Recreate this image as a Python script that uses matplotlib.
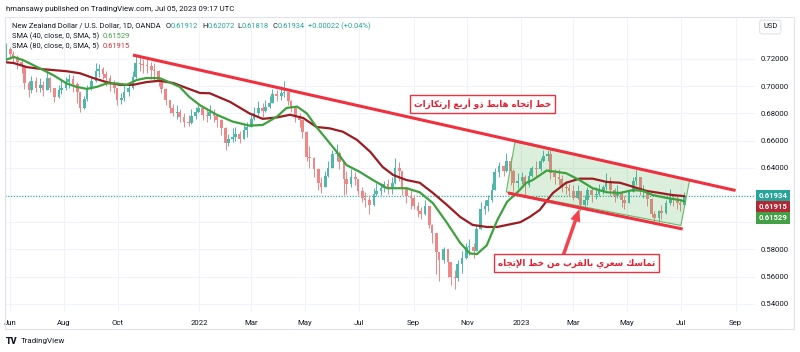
import numpy as np
import pandas as pd
import matplotlib
matplotlib.use("Agg")
import matplotlib.pyplot as plt
import matplotlib.dates as mdates
from matplotlib.patches import Polygon, Rectangle

plt.rcParams["font.family"] = ["Roboto", "DejaVu Sans"]

# candles: one per 3 trading days, last one ends Jul 05 2023
closes = [
    0.7195, 0.7270, 0.7235,                                          # May 21
    0.7215, 0.7180, 0.7150, 0.7020, 0.6975, 0.7035, 0.6990,          # Jun
    0.7010, 0.6975, 0.7060, 0.6990, 0.6920, 0.6975, 0.6990,          # Jul
    0.7030, 0.7050, 0.7015, 0.6960, 0.6840, 0.6905, 0.6985, 0.7040,  # Aug
    0.7110, 0.7125, 0.7090, 0.7060, 0.7020, 0.6990, 0.6900,          # Sep
    0.6910, 0.6960, 0.6985, 0.7070, 0.7170, 0.7160, 0.7155,          # Oct
    0.7150, 0.7120, 0.7110, 0.7040, 0.6980, 0.6900, 0.6840,          # Nov
    0.6805, 0.6810, 0.6770, 0.6740, 0.6730, 0.6780, 0.6810, 0.6840,  # Dec
    0.6790, 0.6780, 0.6810, 0.6780, 0.6750, 0.6690, 0.6580,          # Jan 22
    0.6610, 0.6630, 0.6650, 0.6610, 0.6680, 0.6700, 0.6760,          # Feb
    0.6800, 0.6840, 0.6820, 0.6850, 0.6880, 0.6940, 0.6930, 0.6950,  # Mar
    0.6960, 0.6890, 0.6840, 0.6780, 0.6750, 0.6660, 0.6480,          # Apr
    0.6470, 0.6390, 0.6290, 0.6260, 0.6340, 0.6400, 0.6500,          # May
    0.6510, 0.6440, 0.6320, 0.6280, 0.6330, 0.6320, 0.6230,          # Jun
    0.6180, 0.6160, 0.6130, 0.6210, 0.6230, 0.6250, 0.6280,          # Jul
    0.6260, 0.6290, 0.6400, 0.6380, 0.6250, 0.6190, 0.6180, 0.6120,  # Aug
    0.6080, 0.6060, 0.6120, 0.5980, 0.5920, 0.5780, 0.5720,          # Sep
    0.5800, 0.5710, 0.5600, 0.5590, 0.5690, 0.5740, 0.5820,          # Oct
    0.5820, 0.5790, 0.5950, 0.6100, 0.6120, 0.6160, 0.6240,          # Nov
    0.6370, 0.6410, 0.6380, 0.6450, 0.6380, 0.6290, 0.6300, 0.6330,  # Dec
    0.6270, 0.6340, 0.6400, 0.6390, 0.6450, 0.6490, 0.6500,          # Jan 23
    0.6360, 0.6330, 0.6320, 0.6260, 0.6250, 0.6230, 0.6180,          # Feb
    0.6230, 0.6130, 0.6160, 0.6240, 0.6200, 0.6210, 0.6230, 0.6260,  # Mar
    0.6300, 0.6240, 0.6190, 0.6220, 0.6160, 0.6140,                  # Apr
    0.6220, 0.6300, 0.6330, 0.6230, 0.6230, 0.6170, 0.6060, 0.6030,  # May
    0.6080, 0.6070, 0.6140, 0.6180, 0.6170, 0.6140, 0.6130,          # Jun
    0.61934,                                                         # Jul
]
highs = [
    0.7230, 0.7316, 0.7290,
    0.7260, 0.7230, 0.7210, 0.7150, 0.7040, 0.7075, 0.7065,
    0.7060, 0.7040, 0.7105, 0.7065, 0.6990, 0.7010, 0.7045,
    0.7070, 0.7090, 0.7080, 0.7030, 0.6960, 0.6930, 0.7010, 0.7060,
    0.7170, 0.7160, 0.7140, 0.7110, 0.7080, 0.7045, 0.6990,
    0.6950, 0.7010, 0.7030, 0.7110, 0.7219, 0.7215, 0.7200,
    0.7200, 0.7180, 0.7170, 0.7120, 0.7060, 0.6990, 0.6900,
    0.6870, 0.6860, 0.6830, 0.6800, 0.6790, 0.6830, 0.6850, 0.6860,
    0.6850, 0.6830, 0.6860, 0.6830, 0.6790, 0.6760, 0.6700,
    0.6650, 0.6690, 0.6700, 0.6670, 0.6720, 0.6740, 0.6790,
    0.6850, 0.6890, 0.6880, 0.6900, 0.6930, 0.6980, 0.6970, 0.7000,
    0.7035, 0.6960, 0.6900, 0.6850, 0.6800, 0.6760, 0.6670,
    0.6560, 0.6480, 0.6400, 0.6330, 0.6380, 0.6450, 0.6530,
    0.6576, 0.6520, 0.6440, 0.6380, 0.6390, 0.6370, 0.6320,
    0.6260, 0.6220, 0.6200, 0.6250, 0.6290, 0.6290, 0.6300,
    0.6320, 0.6330, 0.6469, 0.6440, 0.6340, 0.6250, 0.6240, 0.6200,
    0.6150, 0.6110, 0.6160, 0.6100, 0.5990, 0.5880, 0.5760,
    0.5815, 0.5800, 0.5680, 0.5650, 0.5720, 0.5790, 0.5850,
    0.5880, 0.5850, 0.5980, 0.6150, 0.6160, 0.6200, 0.6290,
    0.6400, 0.6440, 0.6420, 0.6512, 0.6480, 0.6390, 0.6360, 0.6370,
    0.6350, 0.6380, 0.6410, 0.6450, 0.6470, 0.6530, 0.6530,
    0.6538, 0.6390, 0.6390, 0.6350, 0.6300, 0.6280, 0.6270,
    0.6270, 0.6220, 0.6200, 0.6260, 0.6250, 0.6260, 0.6280, 0.6270,
    0.6360, 0.6330, 0.6250, 0.6270, 0.6230, 0.6190,
    0.6240, 0.6330, 0.6385, 0.6330, 0.6270, 0.6240, 0.6180, 0.6080,
    0.6090, 0.6130, 0.6160, 0.6245, 0.6210, 0.6190, 0.6160,
    0.6225,
]
lows = [
    0.7150, 0.7190, 0.7200,
    0.7170, 0.7130, 0.7100, 0.6980, 0.6923, 0.6950, 0.6960,
    0.6960, 0.6930, 0.6970, 0.6960, 0.6881, 0.6910, 0.6940,
    0.6970, 0.6990, 0.6960, 0.6880, 0.6808, 0.6830, 0.6890, 0.6970,
    0.7030, 0.7070, 0.7050, 0.7005, 0.6965, 0.6950, 0.6860,
    0.6870, 0.6890, 0.6930, 0.6980, 0.7060, 0.7110, 0.7100,
    0.7100, 0.7050, 0.7040, 0.7000, 0.6950, 0.6860, 0.6800,
    0.6780, 0.6760, 0.6740, 0.6701, 0.6705, 0.6720, 0.6760, 0.6800,
    0.6750, 0.6740, 0.6760, 0.6740, 0.6700, 0.6640, 0.6530,
    0.6560, 0.6590, 0.6600, 0.6580, 0.6620, 0.6630, 0.6700,
    0.6750, 0.6780, 0.6770, 0.6810, 0.6840, 0.6890, 0.6890, 0.6900,
    0.6920, 0.6860, 0.6810, 0.6740, 0.6700, 0.6620, 0.6450,
    0.6400, 0.6330, 0.6240, 0.6217, 0.6260, 0.6330, 0.6400,
    0.6450, 0.6390, 0.6200, 0.6210, 0.6260, 0.6270, 0.6200,
    0.6150, 0.6110, 0.6060, 0.6120, 0.6190, 0.6200, 0.6220,
    0.6210, 0.6210, 0.6280, 0.6300, 0.6200, 0.6140, 0.6100, 0.6100,
    0.6040, 0.6020, 0.6050, 0.5960, 0.5850, 0.5620, 0.5565,
    0.5700, 0.5600, 0.5540, 0.5512, 0.5570, 0.5630, 0.5730,
    0.5760, 0.5740, 0.5800, 0.5950, 0.6060, 0.6080, 0.6150,
    0.6280, 0.6330, 0.6340, 0.6370, 0.6270, 0.6230, 0.6250, 0.6280,
    0.6190, 0.6260, 0.6330, 0.6340, 0.6380, 0.6440, 0.6450,
    0.6320, 0.6280, 0.6270, 0.6220, 0.6210, 0.6190, 0.6160,
    0.6170, 0.6085, 0.6100, 0.6130, 0.6150, 0.6170, 0.6190, 0.6210,
    0.6240, 0.6190, 0.6150, 0.6180, 0.6110, 0.6100,
    0.6150, 0.6220, 0.6270, 0.6200, 0.6180, 0.6120, 0.6040, 0.5985,
    0.6000, 0.6020, 0.6060, 0.6130, 0.6120, 0.6100, 0.6085,
    0.6120,
]
first_open = 0.7180

# SMA 40 (green) and SMA 80 (dark red)
sma40_dates = ["2021-05-21", "2021-06-05", "2021-06-16", "2021-06-27", "2021-07-08",
               "2021-07-20", "2021-08-04", "2021-08-15", "2021-08-27", "2021-09-07",
               "2021-09-18", "2021-09-30", "2021-10-11", "2021-10-22", "2021-11-02",
               "2021-11-17", "2021-11-28", "2021-12-10", "2021-12-21", "2022-01-02",
               "2022-01-21", "2022-02-08", "2022-02-27", "2022-03-14", "2022-03-30",
               "2022-04-10", "2022-04-22", "2022-05-03", "2022-05-14", "2022-05-26",
               "2022-06-06", "2022-06-17", "2022-07-02", "2022-07-17", "2022-08-02",
               "2022-08-09", "2022-08-24", "2022-09-08", "2022-09-23", "2022-10-09",
               "2022-10-24", "2022-11-04", "2022-11-12", "2022-11-23", "2022-12-05",
               "2022-12-16", "2022-12-27", "2023-01-07", "2023-01-14", "2023-01-30",
               "2023-02-10", "2023-02-21", "2023-03-08", "2023-03-23", "2023-04-08",
               "2023-04-23", "2023-05-08", "2023-05-19", "2023-05-30", "2023-06-15",
               "2023-06-30", "2023-07-05"]
sma40_vals = [0.7180, 0.7215, 0.7190, 0.7155, 0.7120,
              0.7080, 0.7020, 0.6995, 0.6980, 0.6995,
              0.7020, 0.7020, 0.7010, 0.7045, 0.7060,
              0.7060, 0.7030, 0.6995, 0.6920, 0.6860,
              0.6790, 0.6740, 0.6710, 0.6715, 0.6775,
              0.6840, 0.6850, 0.6800, 0.6700, 0.6605,
              0.6517, 0.6420, 0.6370, 0.6310, 0.6250,
              0.6250, 0.6250, 0.6220, 0.6140, 0.5994,
              0.5847, 0.5770, 0.5766, 0.5830, 0.6016,
              0.6150, 0.6215, 0.6290, 0.6310, 0.6380,
              0.6370, 0.6360, 0.6310, 0.6250, 0.6220,
              0.6215, 0.6237, 0.6230, 0.6200, 0.6178,
              0.6163, 0.61529]

sma80_dates = ["2021-05-21", "2021-06-05", "2021-06-20", "2021-07-08", "2021-08-04",
               "2021-08-19", "2021-09-03", "2021-09-18", "2021-10-03", "2021-10-18",
               "2021-11-02", "2021-11-17", "2021-12-03", "2021-12-18", "2022-01-02",
               "2022-01-13", "2022-02-05", "2022-02-27", "2022-03-14", "2022-03-30",
               "2022-04-14", "2022-04-29", "2022-05-14", "2022-05-29", "2022-06-13",
               "2022-06-29", "2022-07-14", "2022-07-28", "2022-08-09", "2022-08-24",
               "2022-09-08", "2022-09-23", "2022-10-09", "2022-10-24", "2022-11-07",
               "2022-11-23", "2022-12-05", "2022-12-16", "2022-12-31", "2023-01-11",
               "2023-01-22", "2023-02-06", "2023-02-21", "2023-03-08", "2023-03-23",
               "2023-04-08", "2023-04-23", "2023-05-08", "2023-05-23", "2023-06-07",
               "2023-06-21", "2023-07-05"]
sma80_vals = [0.7180, 0.7170, 0.7140, 0.7125, 0.7110,
              0.7095, 0.7060, 0.7030, 0.7010, 0.7010,
              0.7030, 0.7040, 0.7023, 0.6986, 0.6950,
              0.6948, 0.6885, 0.6800, 0.6760, 0.6770,
              0.6790, 0.6766, 0.6700, 0.6690, 0.6665,
              0.6605, 0.6517, 0.6406, 0.6347, 0.6310,
              0.6290, 0.6215, 0.6126, 0.6038, 0.5980,
              0.5965, 0.5965, 0.5980, 0.6000, 0.6040,
              0.6090, 0.6215, 0.6290, 0.6320, 0.6320,
              0.6296, 0.6290, 0.6260, 0.6230, 0.6215,
              0.6200, 0.61915]

# drawings on the chart
trend_top = (["2021-10-18", "2023-09-01"], [0.7229, 0.6233])
trend_low = (["2022-12-17", "2023-07-03"], [0.6215, 0.5950])
channel_box = (["2022-12-25", "2023-07-11", "2023-07-01", "2022-12-15"],
               [0.6590, 0.6312, 0.5976, 0.6222])
arrow_tail = ("2023-02-18", 0.5762)
arrow_head = ("2023-03-08", 0.6097)
note1_pos = ("2022-11-18", 0.6869)
note2_pos = ("2023-03-05", 0.5700)
note1 = "خط إتجاه هابط ذو أربع إرتكازات"
note2 = "تماسك سعري بالقرب من خط الإتجاه"

month_ticks = ["2021-06-01", "2021-08-01", "2021-10-01", "2022-01-01", "2022-03-01",
               "2022-05-01", "2022-07-01", "2022-09-01", "2022-11-01", "2023-01-01",
               "2023-03-01", "2023-05-01", "2023-07-01", "2023-09-01"]
month_labels = ["Jun", "Aug", "Oct", "2022", "Mar", "May", "Jul", "Sep", "Nov",
                "2023", "Mar", "May", "Jul", "Sep"]
price_ticks = [0.54, 0.56, 0.58, 0.60, 0.62, 0.64, 0.66, 0.68, 0.70, 0.72]
hidden_ticks = [0.60, 0.62]   # covered by the price labels

last_close = 0.61934
last_sma40 = 0.61529
last_sma80 = 0.61915

# ---- minimal arabic shaping (presentation forms + visual order) ----
AR_FORMS = {
    "ا": (0xFE8D, 0xFE8E, None, None), "أ": (0xFE83, 0xFE84, None, None),
    "إ": (0xFE87, 0xFE88, None, None), "ب": (0xFE8F, 0xFE90, 0xFE91, 0xFE92),
    "ت": (0xFE95, 0xFE96, 0xFE97, 0xFE98), "ج": (0xFE9D, 0xFE9E, 0xFE9F, 0xFEA0),
    "خ": (0xFEA5, 0xFEA6, 0xFEA7, 0xFEA8), "ذ": (0xFEAB, 0xFEAC, None, None),
    "ر": (0xFEAD, 0xFEAE, None, None), "ز": (0xFEAF, 0xFEB0, None, None),
    "س": (0xFEB1, 0xFEB2, 0xFEB3, 0xFEB4), "ط": (0xFEC1, 0xFEC2, 0xFEC3, 0xFEC4),
    "ع": (0xFEC9, 0xFECA, 0xFECB, 0xFECC), "ق": (0xFED5, 0xFED6, 0xFED7, 0xFED8),
    "ك": (0xFED9, 0xFEDA, 0xFEDB, 0xFEDC), "ل": (0xFEDD, 0xFEDE, 0xFEDF, 0xFEE0),
    "م": (0xFEE1, 0xFEE2, 0xFEE3, 0xFEE4), "ن": (0xFEE5, 0xFEE6, 0xFEE7, 0xFEE8),
    "ه": (0xFEE9, 0xFEEA, 0xFEEB, 0xFEEC), "و": (0xFEED, 0xFEEE, None, None),
    "ي": (0xFEF1, 0xFEF2, 0xFEF3, 0xFEF4),
}
LAM_ALEF = {"ا": (0xFEFB, 0xFEFC), "أ": (0xFEF7, 0xFEF8), "إ": (0xFEF9, 0xFEFA)}


def shape_arabic(text):
    out = []
    prev_link = False
    i = 0
    while i < len(text):
        ch = text[i]
        nxt = text[i + 1] if i + 1 < len(text) else ""
        if ch not in AR_FORMS:
            out.append(ch)
            prev_link = False
            i += 1
            continue
        if ch == "ل" and nxt in LAM_ALEF:
            iso, fin = LAM_ALEF[nxt]
            out.append(chr(fin if prev_link else iso))
            prev_link = False
            i += 2
            continue
        iso, fin, ini, med = AR_FORMS[ch]
        next_link = nxt in AR_FORMS and ini is not None
        if prev_link and next_link:
            g = med
        elif prev_link:
            g = fin
        elif next_link:
            g = ini
        else:
            g = iso
        out.append(chr(g))
        prev_link = ini is not None
        i += 1
    return "".join(reversed(out))


# ---- figure ----
W, H = 800, 352
fig = plt.figure(figsize=(W / 100, H / 100), dpi=100)
fig.patch.set_facecolor("white")


def fx(px):
    return px / W


def fy(py):
    return 1 - py / H


ax = fig.add_axes([fx(5), fy(312), fx(750), (312 - 17) / H])
for s in ax.spines.values():
    s.set_visible(False)

dates = pd.bdate_range(end="2023-07-05", periods=len(closes), freq="3B")
x = mdates.date2num(dates)
c = np.array(closes)
o = np.concatenate([[first_open], c[:-1]])
h = np.maximum(np.array(highs), np.maximum(o, c))
l = np.minimum(np.array(lows), np.minimum(o, c))
up = c >= o
UP, DN = "#4fb8ab", "#ef8787"
cols = np.where(up, UP, DN)

ax.vlines(x, l, h, colors=cols, lw=0.7, zorder=2)
body_lo = np.minimum(o, c)
body_h = np.maximum(np.abs(c - o), 0.0004)
ax.bar(x, body_h, bottom=body_lo, width=3.0, color=cols, lw=0, zorder=2)

# channel box
corners = list(zip(mdates.datestr2num(channel_box[0]), channel_box[1]))
ax.add_patch(Polygon(corners, closed=True, fc="#4caf50", alpha=0.2, ec="none", zorder=3))
ax.add_patch(Polygon(corners, closed=True, fill=False, ec="#66bb6a", lw=0.8, zorder=3))

# moving averages
ax.plot(mdates.datestr2num(sma80_dates), sma80_vals, color="#9c1c22", lw=1.6, zorder=4,
        solid_capstyle="round", solid_joinstyle="round")
ax.plot(mdates.datestr2num(sma40_dates), sma40_vals, color="#3da13f", lw=1.6, zorder=4,
        solid_capstyle="round", solid_joinstyle="round")

# last price dotted line
ax.axhline(last_close, color="#26a69a", lw=0.8, ls=(0, (1, 1.5)), zorder=1.5)

# trend lines
red = "#f0303f"
ax.plot(mdates.datestr2num(trend_top[0]), trend_top[1], color=red, lw=2.2, zorder=5,
        solid_capstyle="butt")
ax.plot(mdates.datestr2num(trend_low[0]), trend_low[1], color=red, lw=2.2, zorder=5,
        solid_capstyle="butt")

# arrow
ax.annotate("", xy=(mdates.datestr2num(arrow_head[0]), arrow_head[1]),
            xytext=(mdates.datestr2num(arrow_tail[0]), arrow_tail[1]),
            arrowprops=dict(arrowstyle="simple,head_length=0.9,head_width=0.75,tail_width=0.25",
                            mutation_scale=10, color="#f2434f", lw=0, shrinkA=0, shrinkB=0),
            zorder=6)

# notes
for txt, pos in [(note1, note1_pos), (note2, note2_pos)]:
    ax.text(mdates.datestr2num(pos[0]), pos[1], shape_arabic(txt),
            family=["DejaVu Sans"], fontweight="bold", fontsize=6.3, color="#e3202f",
            ha="center", va="center", zorder=7,
            bbox=dict(boxstyle="square,pad=0.45", fc="white", ec=red, lw=1.0))

# axes
ax.set_xlim(mdates.datestr2num("2021-05-26"), mdates.datestr2num("2023-09-23"))
ax.set_ylim(0.53397, 0.75088)
ax.yaxis.tick_right()
ax.set_yticks(price_ticks)
ax.set_yticklabels(["" if p in hidden_ticks else f"{p:.5f}" for p in price_ticks])
ax.set_xticks(mdates.datestr2num(month_ticks))
ax.set_xticklabels(month_labels)
ax.tick_params(axis="both", length=0, labelsize=5.6, colors="#131722")
ax.tick_params(axis="y", pad=4)
ax.tick_params(axis="x", pad=6)
ax.grid(True, color="#f0f3fa", lw=0.8, zorder=0)
ax.set_axisbelow(True)

# price labels on the scale
for val, col, dy in [(last_close, "#26a69a", 0), (last_sma80, "#b22833", -11),
                     (last_sma40, "#43a047", -22)]:
    ax.annotate(f"{val:.5f}", xy=(1, last_close), xycoords=("axes fraction", "data"),
                xytext=(3.5, dy), textcoords="offset pixels", va="center", ha="left",
                fontsize=5.6, fontweight="bold", color="white", zorder=10,
                annotation_clip=False,
                bbox=dict(boxstyle="square,pad=0.3", fc=col, ec="none"))

# frame
fig.add_artist(Rectangle((fx(5), fy(329)), fx(789), (329 - 17) / H,
                         transform=fig.transFigure, fill=False, ec="#e0e3eb", lw=0.8))

# header + legend
fig.text(fx(6), fy(9), "hmansawy published on TradingView.com, Jul 05, 2023 09:17 UTC",
         fontsize=5.6, color="#131722", va="center")
dark, teal = "#131722", "#26a69a"
leg1 = [(11.5, "New Zealand Dollar / U.S. Dollar, 1D, OANDA", dark),
        (165.5, "O", dark), (170.5, "0.61912", teal),
        (202.5, "H", dark), (207.5, "0.62072", teal),
        (237.5, "L", dark), (241.5, "0.61818", teal),
        (272.5, "C", dark), (277.5, "0.61934", teal),
        (308.5, "+0.00022 (+0.04%)", teal)]
for px, t, col in leg1:
    fig.text(fx(px), fy(26), t, fontsize=5.4, color=col, va="center")
fig.text(fx(11.5), fy(36), "SMA (40, close, 0, SMA, 5)", fontsize=5.4, color=dark, va="center")
fig.text(fx(103), fy(36), "0.61529", fontsize=5.4, color="#43a047", va="center")
fig.text(fx(11.5), fy(46), "SMA (80, close, 0, SMA, 5)", fontsize=5.4, color=dark, va="center")
fig.text(fx(103), fy(46), "0.61915", fontsize=5.4, color="#d32f2f", va="center")

# currency box
fig.text(fx(763), fy(27), "USD", fontsize=5.4, color=dark, va="center",
         bbox=dict(boxstyle="round,pad=0.45,rounding_size=0.3", fc="white", ec="#e0e3eb", lw=0.8))

# footer logo
fig.text(fx(6), fy(341), "TV", fontsize=6.5, fontweight="black", color=dark, va="center")
fig.text(fx(20.5), fy(341), "TradingView", fontsize=5.8, color=dark, va="center")

fig.savefig("out.png", dpi=100, facecolor="white")
